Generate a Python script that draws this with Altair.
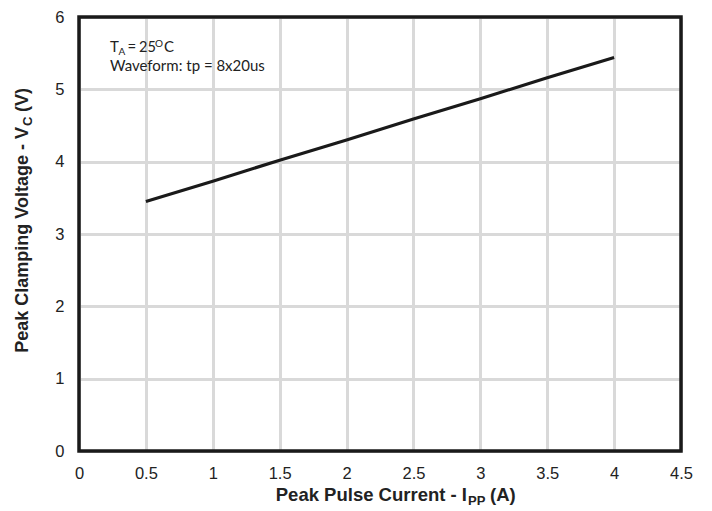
import altair as alt
import pandas as pd

current = [0.5, 1.0, 1.5, 2.0, 2.5, 3.0, 3.5, 4.0]
voltage = [3.45, 3.73, 4.02, 4.30, 4.59, 4.87, 5.16, 5.44]
x_ticks = [0, 0.5, 1, 1.5, 2, 2.5, 3, 3.5, 4, 4.5]
y_ticks = [0, 1, 2, 3, 4, 5, 6]

df = pd.DataFrame({"I": current, "V": voltage})

W, H = 602, 434
SANS = "Liberation Sans, Arial, sans-serif"
NOTE = "Lato, Open Sans, Liberation Sans"

base = alt.Chart(df)

line = base.mark_line(color="#1a1a1a", strokeWidth=3.2).encode(
    x=alt.X("I:Q", scale=alt.Scale(domain=[0, 4.5], nice=False),
            axis=alt.Axis(values=x_ticks, title=None, grid=True, ticks=False, format="~g",
                          domain=False, labelFontSize=16.5, labelColor="#222",
                          labelFont=SANS, labelPadding=14, gridColor="#d9d9d9",
                          gridWidth=3, labelFlush=False)),
    y=alt.Y("V:Q", scale=alt.Scale(domain=[0, 6], nice=False),
            axis=alt.Axis(values=y_ticks, title=None, grid=True, ticks=False, format="~g",
                          domain=False, labelFontSize=16.5, labelColor="#222",
                          labelFont=SANS, labelPadding=15, gridColor="#d9d9d9",
                          gridWidth=3, labelFlush=False)),
)

one = pd.DataFrame({"k": [0]})


def txt(s, x, y, size=13, weight="normal", align="left", angle=0, font=SANS, color="#222"):
    return alt.Chart(one).mark_text(
        text=s, fontSize=size, fontWeight=weight, align=align, baseline="alphabetic",
        angle=angle, font=font, color=color
    ).encode(x=alt.value(x), y=alt.value(y))


texts = [
    # annotation
    txt("T", 31, 35, 15, font=NOTE),
    txt("A", 39.5, 38, 10, font=NOTE),
    txt("=", 48.5, 35, 15, font=NOTE),
    txt("25", 60, 35, 14.5, font=NOTE),
    txt("O", 76, 30, 10, font=NOTE),
    txt("C", 85, 35, 15, font=NOTE),
    txt("Waveform: tp = 8x20us", 31, 54, 15, font=NOTE),
    # x title
    txt("Peak Pulse Current - I", 388, 484, 18.5, "bold", "right"),
    txt("PP", 389, 488, 13, "bold"),
    txt("(A)", 411, 484, 18.5, "bold"),
    # y title
    txt("Peak Clamping Voltage - V", -51, 110, 18, "bold", "right", 270),
    txt("C", -47, 109, 13, "bold", "left", 270),
    txt("(V)", -51, 95, 18, "bold", "left", 270),
]

frame = alt.Chart(one).mark_rect(fill=None, stroke="#1a1a1a", strokeWidth=3.5).encode(
    x=alt.value(0), x2=alt.value(W), y=alt.value(0), y2=alt.value(H)
)

chart = alt.layer(line, frame, *texts).properties(
    width=W, height=H, padding={"left": 71, "top": 9, "right": 23, "bottom": 57},
    autosize=alt.AutoSizeParams(type="none"),
).configure_view(stroke=None).configure(background="white")

chart.save("out.html", embed_options={"renderer": "svg", "actions": False})
